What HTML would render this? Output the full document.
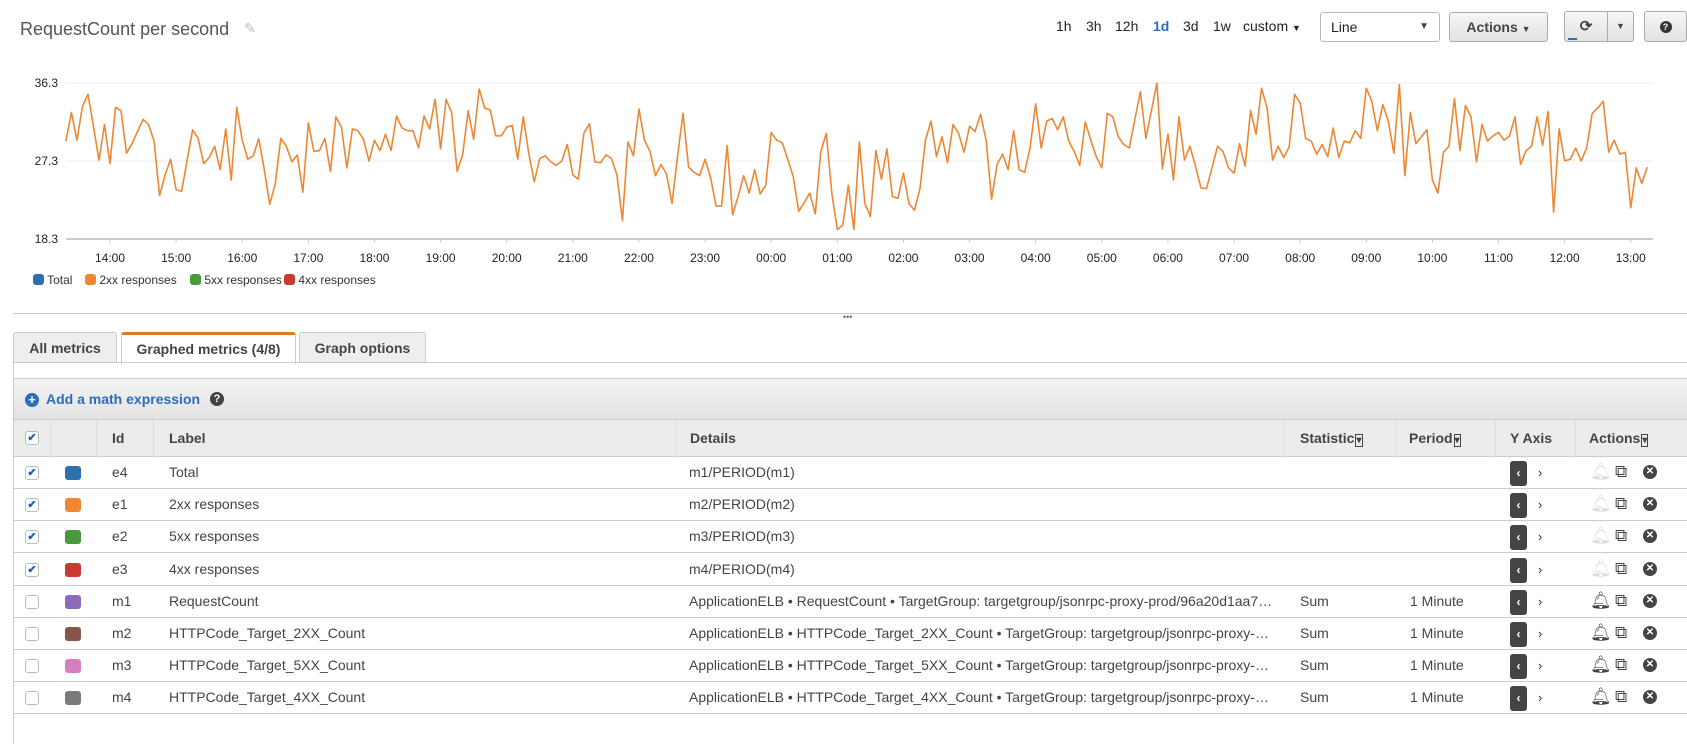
<!DOCTYPE html>
<html><head><meta charset="utf-8"><style>
*{box-sizing:border-box;margin:0;padding:0}
body{width:1687px;height:744px;overflow:hidden;background:#fff;font-family:"Liberation Sans",sans-serif;color:#333;position:relative}
.abs{position:absolute}
.tr{position:absolute;font-size:14px;color:#222}
.btn{position:absolute;border:1px solid #aaa;border-radius:3px;background:linear-gradient(#f6f6f6,#e2e2e2);font-weight:bold;font-size:14px;color:#444;text-align:center}
.tab{position:absolute;top:332px;height:31px;border:1px solid #ccc;border-bottom:none;background:#eee;font-weight:bold;font-size:14px;color:#444;text-align:center;line-height:30px;border-radius:3px 3px 0 0}
.hd{position:absolute;top:420px;height:37px;font-weight:bold;font-size:14px;color:#444;line-height:37px}
.vl{position:absolute;top:420px;height:37px;width:1px;background:#ddd}
.row{position:absolute;left:13px;width:1674px;height:32px;border-bottom:1px solid #ccc;font-size:14px;color:#444}
.row span{position:absolute;top:0;line-height:31px;white-space:nowrap}
.cb{position:absolute;left:12px;top:9px;width:14px;height:14px;border:1px solid #bbb;border-radius:3px;background:#fff;font-size:11px;color:#1a5fb4;text-align:center;line-height:12px;font-weight:bold}
.sw{position:absolute;left:52px;top:9px;width:16px;height:14px;border-radius:3px}
.ya{position:absolute;left:1497px;top:4px;width:17px;height:25px;background:#444;border-radius:3px;color:#fff;font-size:12px;text-align:center;line-height:25px;font-weight:bold}
.yb{position:absolute;left:1525px;top:0;line-height:31px;font-size:13px;color:#333}
.ic{position:absolute;top:5px;font-size:17px;line-height:20px}
</style></head><body>
<div class="abs" style="left:20px;top:19px;font-size:18px;color:#555">RequestCount per second</div>
<div class="abs" style="left:244px;top:20px;font-size:14px;color:#bbb">✎</div>
<div class="tr" style="left:1056px;top:18px">1h</div>
<div class="tr" style="left:1086px;top:18px">3h</div>
<div class="tr" style="left:1115px;top:18px">12h</div>
<div class="tr" style="left:1153px;top:18px;color:#2a6ebb;font-weight:bold">1d</div>
<div class="tr" style="left:1183px;top:18px">3d</div>
<div class="tr" style="left:1213px;top:18px">1w</div>
<div class="tr" style="left:1243px;top:18px">custom <span style="font-size:9px">▼</span></div>
<div class="abs" style="left:1320px;top:12px;width:120px;height:30px;border:1px solid #bbb;border-radius:3px;font-size:14px;line-height:28px;padding-left:10px;color:#222">Line<span style="position:absolute;right:10px;font-size:10px;color:#444">▼</span></div>
<div class="btn" style="left:1449px;top:12px;width:99px;height:30px;line-height:28px">Actions <span style="font-size:9px">▼</span></div>
<div class="btn" style="left:1564px;top:11px;width:44px;height:31px;line-height:29px;font-size:15px;border-radius:3px 0 0 3px">⟳<div style="position:absolute;left:3px;bottom:1px;width:9px;height:2px;background:#2a6ebb"></div></div>
<div class="btn" style="left:1607px;top:11px;width:27px;height:31px;line-height:29px;font-size:9px;border-radius:0 3px 3px 0">▼</div>
<div class="btn" style="left:1644px;top:11px;width:43px;height:31px;line-height:29px"><span style="display:inline-block;width:12px;height:12px;border-radius:50%;background:#333;color:#fff;font-size:9px;line-height:12px;vertical-align:middle">?</span></div>

<svg class="abs" style="left:0;top:0" width="1687" height="300" id="chart"></svg>

<div class="abs" style="left:33px;top:273px;font-size:12px;color:#333;white-space:nowrap">
<span style="position:absolute;left:0"><i style="display:inline-block;width:11px;height:11px;border-radius:3px;background:#2f6fb0;vertical-align:-1px"></i> Total</span>
<span style="position:absolute;left:52px"><i style="display:inline-block;width:11px;height:11px;border-radius:3px;background:#f0862f;vertical-align:-1px"></i> 2xx responses</span>
<span style="position:absolute;left:157px"><i style="display:inline-block;width:11px;height:11px;border-radius:3px;background:#4a9a3c;vertical-align:-1px"></i> 5xx responses</span>
<span style="position:absolute;left:251px"><i style="display:inline-block;width:11px;height:11px;border-radius:3px;background:#c93b30;vertical-align:-1px"></i> 4xx responses</span>
</div>
<div class="abs" style="left:13px;top:313px;width:1674px;height:1px;background:#ccc"></div>
<div class="abs" style="left:843px;top:312px;font-size:9px;color:#666">•••</div>

<div class="tab" style="left:13px;width:104px">All metrics</div>
<div class="tab" style="left:121px;width:175px;background:#fff;border-top:3px solid #e07b22;line-height:28px;height:32px">Graphed metrics (4/8)</div>
<div class="tab" style="left:299px;width:127px">Graph options</div>
<div class="abs" style="left:13px;top:362px;width:1674px;height:382px;border-left:1px solid #ccc;border-top:1px solid #ccc"></div>
<div class="abs" style="left:14px;top:378px;width:1673px;height:42px;background:linear-gradient(#f2f2f2,#e4e4e4);border-top:1px solid #ccc;border-bottom:1px solid #ccc"></div>
<div class="abs" style="left:25px;top:391px;font-size:14px;font-weight:bold;color:#2a6ebb"><span style="display:inline-block;width:14px;height:14px;border-radius:50%;background:#2a6ebb;color:#fff;text-align:center;line-height:14px;font-size:13px;margin-right:7px">+</span>Add a math expression</div>
<div class="abs" style="left:210px;top:392px;width:14px;height:14px;border-radius:50%;background:#444;color:#fff;font-size:11px;font-weight:bold;text-align:center;line-height:14px">?</div>

<div class="abs" style="left:14px;top:420px;width:1673px;height:37px;background:#ececec;border-bottom:1px solid #ccc"></div>
<div class="cb" style="left:25px;top:431px">✔</div>
<div class="vl" style="left:50px"></div><div class="vl" style="left:96px"></div><div class="vl" style="left:153px"></div><div class="vl" style="left:675px"></div><div class="vl" style="left:1284px"></div><div class="vl" style="left:1395px"></div><div class="vl" style="left:1495px"></div><div class="vl" style="left:1575px"></div>
<div class="hd" style="left:112px">Id</div>
<div class="hd" style="left:169px">Label</div>
<div class="hd" style="left:690px">Details</div>
<div class="hd" style="left:1300px">Statistic<span style="font-size:10px;border:1px solid #444;margin-left:1px">▾</span></div>
<div class="hd" style="left:1409px">Period<span style="font-size:10px;border:1px solid #444;margin-left:1px">▾</span></div>
<div class="hd" style="left:1510px">Y Axis</div>
<div class="hd" style="left:1589px">Actions<span style="font-size:10px;border:1px solid #444;margin-left:1px">▾</span></div>

<div id="rows"></div>

<script>
const rowIds=["e4","e1","e2","e3","m1","m2","m3","m4"];
const rowLabels=["Total","2xx responses","5xx responses","4xx responses","RequestCount","HTTPCode_Target_2XX_Count","HTTPCode_Target_5XX_Count","HTTPCode_Target_4XX_Count"];
const rowDetails=["m1/PERIOD(m1)","m2/PERIOD(m2)","m3/PERIOD(m3)","m4/PERIOD(m4)",
"ApplicationELB • RequestCount • TargetGroup: targetgroup/jsonrpc-proxy-prod/96a20d1aa7…",
"ApplicationELB • HTTPCode_Target_2XX_Count • TargetGroup: targetgroup/jsonrpc-proxy-…",
"ApplicationELB • HTTPCode_Target_5XX_Count • TargetGroup: targetgroup/jsonrpc-proxy-…",
"ApplicationELB • HTTPCode_Target_4XX_Count • TargetGroup: targetgroup/jsonrpc-proxy-…"];
const rowColors=["#2f6fb0","#f0862f","#4a9a3c","#c93b30","#8c6bb8","#85564b","#d47fc0","#7a7a7a"];
const rowChecked=[1,1,1,1,0,0,0,0];
const rows=document.getElementById('rows');
rowIds.forEach((id,i)=>{
  const r=document.createElement('div');
  r.className='row';
  r.style.top=(457+i*32.2)+'px';
  
  
  const m=i>=4;
  const bell=m?'#444':'#ddd';
  r.innerHTML=`<div class="cb">${rowChecked[i]?'✔':''}</div>
<div class="sw" style="background:${rowColors[i]}"></div>
<span style="left:99px">${id}</span><span style="left:156px">${rowLabels[i]}</span>
<span style="left:676px">${rowDetails[i]}</span>
<span style="left:1287px">${m?'Sum':''}</span><span style="left:1397px">${m?'1 Minute':''}</span>
<div class="ya">‹</div><div class="yb">›</div>
<div class="ic" style="left:1577px;color:${bell}">🔔︎</div>
<div class="ic" style="left:1602px;color:#444">⧉</div>
<div class="ic" style="left:1630px;top:8px;width:14px;height:14px;border-radius:50%;background:#444;color:#fff;font-size:10px;line-height:14px;text-align:center;font-weight:bold">✕</div>`;
  rows.appendChild(r);
});
</script>

<script>
const yTicks=[18.3,27.3,36.3];
const xTickLabels=["14:00","15:00","16:00","17:00","18:00","19:00","20:00","21:00","22:00","23:00","00:00","01:00","02:00","03:00","04:00","05:00","06:00","07:00","08:00","09:00","10:00","11:00","12:00","13:00"];
const startMinute=800; // 13:20
const intervalMinutes=5;
const values2xx=[29.6,32.9,29.7,33.6,35.0,31.3,27.4,31.5,27.0,33.5,33.1,28.2,29.3,30.7,32.1,31.5,29.6,23.3,25.7,27.5,24.0,23.8,27.4,30.9,29.9,27.0,27.7,29.0,26.3,31.0,25.1,33.5,29.7,27.5,27.9,29.9,26.3,22.3,24.7,29.9,29.0,27.2,28.0,23.7,31.7,28.4,28.5,29.9,26.1,32.4,31.2,26.5,31.0,30.8,29.8,27.3,29.7,28.5,30.4,28.5,32.5,31.1,30.8,30.8,28.8,32.5,31.0,34.4,
28.7,34.4,32.9,26.1,28.0,33.1,29.8,35.6,33.4,33.2,30.2,30.2,31.2,31.4,27.5,32.4,28.2,24.9,27.6,27.9,27.2,26.8,27.3,29.2,25.7,25.2,30.5,31.6,27.2,27.1,28.0,27.6,25.7,20.4,29.5,27.9,33.3,29.7,28.4,25.6,26.9,25.8,22.4,27.8,32.8,26.6,26.0,25.6,27.5,25.4,22.1,22.1,29.1,21.1,23.2,25.6,23.6,26.3,23.5,24.5,30.6,29.7,29.4,27.5,25.5,21.5,22.5,23.6,
21.2,28.4,30.5,23.6,19.4,19.9,24.5,19.4,29.5,22.4,20.9,28.5,25.2,28.7,23.2,23.0,25.9,22.4,21.6,24.1,29.7,31.9,27.8,30.1,27.1,31.5,30.5,28.3,31.3,30.7,32.7,29.7,22.9,26.9,28.1,26.3,30.8,26.3,26.0,28.9,33.9,28.8,31.9,32.2,30.9,32.4,29.6,28.4,26.8,31.8,29.7,27.8,26.5,32.8,32.4,30.1,29.2,28.8,32.1,35.3,29.9,33.1,36.3,26.4,30.4,25.1,32.4,27.4,
29.0,26.7,24.2,24.1,26.5,29.0,28.4,26.5,25.9,29.3,26.7,33.1,30.4,35.7,33.4,27.4,29.0,27.7,28.9,35.0,34.0,29.9,29.6,28.1,29.2,27.8,31.1,27.7,29.6,29.4,30.8,29.9,35.7,34.2,30.8,33.8,31.9,28.2,36.1,25.6,32.9,29.3,30.1,30.9,25.1,23.6,28.3,29.0,34.5,28.5,33.7,32.4,27.2,31.5,29.6,30.2,30.6,29.7,30.2,32.4,26.9,28.5,29.0,32.4,29.1,33.0,21.4,31.0,
27.3,27.5,28.8,27.3,28.8,32.8,33.4,34.2,28.3,29.7,28.1,28.3,21.9,26.5,24.7,26.6];

const NS='http://www.w3.org/2000/svg';
const svg=document.getElementById('chart');
const X0=66,X1=1653,Ytop=83,Ybot=239;
const yMin=yTicks[0],yMax=yTicks[yTicks.length-1];
function yS(v){return Ybot-(v-yMin)/(yMax-yMin)*(Ybot-Ytop);}
function xS(min){return 110+(min-840)/60*66.12;}
function mk(t,a){const e=document.createElementNS(NS,t);for(const k in a)e.setAttribute(k,a[k]);svg.appendChild(e);return e;}
yTicks.forEach(v=>{
  const g=mk('line',{x1:X0,x2:X1,y1:yS(v),y2:yS(v),stroke:v===yMin?'#ccc':'#eee','stroke-width':v===yMin?2:1});
  
  
  const t=mk('text',{x:58,y:yS(v)+4,'text-anchor':'end','font-size':12,fill:'#222','font-family':'Liberation Sans, sans-serif'});
  t.textContent=v.toFixed(1);
  
  
});
xTickLabels.forEach((lab,i)=>{
  const x=xS(840+i*60);
  const tk=mk('line',{x1:x,x2:x,y1:Ybot,y2:Ybot+4,stroke:'#ccc'});
  
  
  const t=mk('text',{x:x,y:262,'text-anchor':'middle','font-size':12,fill:'#222','font-family':'Liberation Sans, sans-serif'});
  t.textContent=lab;
  
  
});
const d=values2xx.map((v,i)=>(i?'L':'M')+xS(startMinute+i*intervalMinutes).toFixed(2)+','+yS(v).toFixed(2)).join('');
const p=mk('path',{d:d,fill:'none',stroke:'#ec8733','stroke-width':1.6,'stroke-linejoin':'round'});


</script>
</body></html>
